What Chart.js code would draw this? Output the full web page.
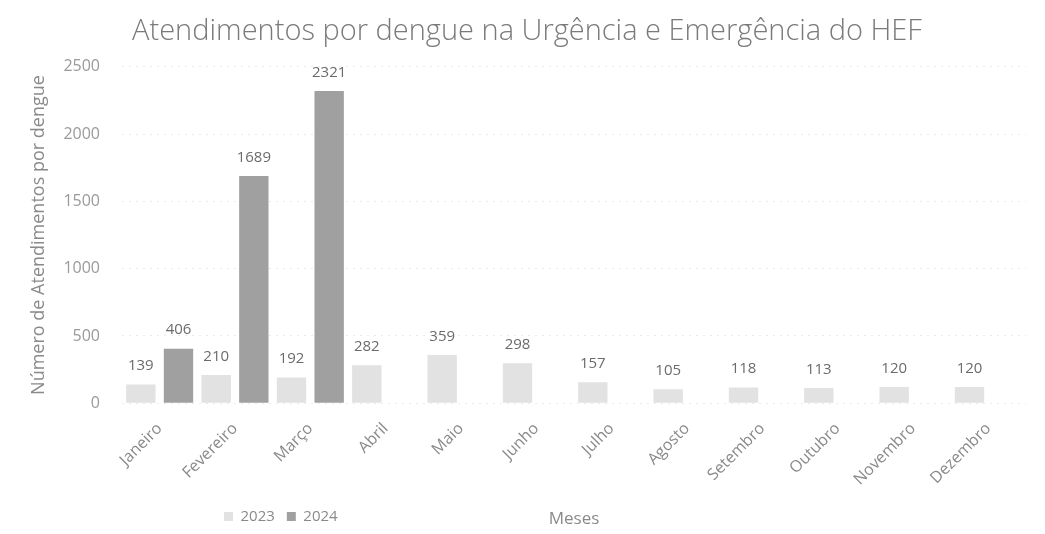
<!DOCTYPE html>
<html>
<head>
<meta charset="utf-8">
<script src="https://cdn.jsdelivr.net/npm/chart.js@4.4.1/dist/chart.umd.min.js"></script>
<style>
  html, body { margin: 0; padding: 0; background: #ffffff; }
  #wrap { width: 1045px; height: 534px; }
</style>
</head>
<body>
<div id="wrap"><canvas id="c" width="1045" height="534"></canvas></div>
<script>
const months = ["Janeiro", "Fevereiro", "Março", "Abril", "Maio", "Junho", "Julho", "Agosto", "Setembro", "Outubro", "Novembro", "Dezembro"];
const values2023 = [139, 210, 192, 282, 359, 298, 157, 105, 118, 113, 120, 120];
const values2024 = [406, 1689, 2321, null, null, null, null, null, null, null, null, null];
const yTicks = [0, 500, 1000, 1500, 2000, 2500];

const FONT = "'Open Sans', 'Liberation Sans', sans-serif";

const valueLabels = {
  id: 'valueLabels',
  afterDatasetsDraw(chart) {
    const ctx = chart.ctx;
    ctx.save();
    ctx.font = "15px " + FONT;
    ctx.fillStyle = '#6b6b6b';
    ctx.textAlign = 'center';
    ctx.textBaseline = 'bottom';
    chart.data.datasets.forEach((ds, i) => {
      const meta = chart.getDatasetMeta(i);
      meta.data.forEach((el, j) => {
        const v = ds.data[j];
        if (v === null || v === undefined) return;
        ctx.fillText(String(v), el.x, el.y - 11);
      });
    });
    ctx.restore();
  }
};

const bottomRow = {
  id: 'bottomRow',
  afterLayout(chart) {
    const lg = chart.legend;
    if (lg) {
      const w = lg.right - lg.left;
      lg.left = 212;
      lg.right = 212 + w;
    }
  },
  afterDraw(chart) {
    const ctx = chart.ctx;
    const lg = chart.legend;
    const ca = chart.chartArea;
    ctx.save();
    ctx.font = "17px " + FONT;
    ctx.fillStyle = '#8a8a8a';
    ctx.textAlign = 'center';
    ctx.textBaseline = 'middle';
    const y = lg ? (lg.top + lg.bottom) / 2 + 4 : 520;
    ctx.fillText('Meses', (ca.left + ca.right) / 2, y);
    ctx.restore();
  }
};

new Chart(document.getElementById('c'), {
  type: 'bar',
  data: {
    labels: months,
    datasets: [
      { label: '2023', data: values2023, backgroundColor: '#e2e2e2', borderWidth: 0,
        categoryPercentage: 1.0, barPercentage: 0.78 },
      { label: '2024', data: values2024, backgroundColor: '#a0a0a0', borderWidth: 0,
        categoryPercentage: 1.0, barPercentage: 0.78 }
    ]
  },
  options: {
    responsive: false,
    animation: false,
    devicePixelRatio: 1,
    layout: { padding: { left: 28, right: 19, top: 4, bottom: 0 } },
    plugins: {
      title: {
        display: true,
        text: 'Atendimentos por dengue na Urgência e Emergência do HEF',
        color: '#7a7a7a',
        font: { family: FONT, size: 29, weight: '300' },
        padding: { top: 10, bottom: 18 }
      },
      legend: {
        display: true,
        position: 'bottom',
        align: 'start',
        labels: {
          color: '#8a8a8a',
          font: { family: FONT, size: 15 },
          boxWidth: 9,
          boxHeight: 9,
          padding: 12
        }
      },
      tooltip: { enabled: false }
    },
    scales: {
      x: {
        grid: { display: false },
        border: { display: false },
        ticks: {
          color: '#8a8a8a',
          font: { family: FONT, size: 16 },
          maxRotation: 45,
          minRotation: 45,
          padding: 8
        }
      },
      y: {
        min: 0,
        max: 2500,
        afterBuildTicks(scale) { scale.ticks = yTicks.map(v => ({ value: v })); },
        afterFit(scale) { scale.width = 94; },
        grid: { color: '#ebebeb', lineWidth: 1, drawTicks: false },
        border: { display: false, dash: [2, 5] },
        ticks: {
          color: '#9a9a9a',
          font: { family: FONT, size: 16 },
          padding: 22,
          callback: (v) => String(v)
        },
        title: {
          display: true,
          text: 'Número de Atendimentos por dengue',
          color: '#8a8a8a',
          font: { family: FONT, size: 18 },
          padding: { top: 0, bottom: 0 }
        }
      }
    }
  },
  plugins: [valueLabels, bottomRow]
});
</script>
</body>
</html>
